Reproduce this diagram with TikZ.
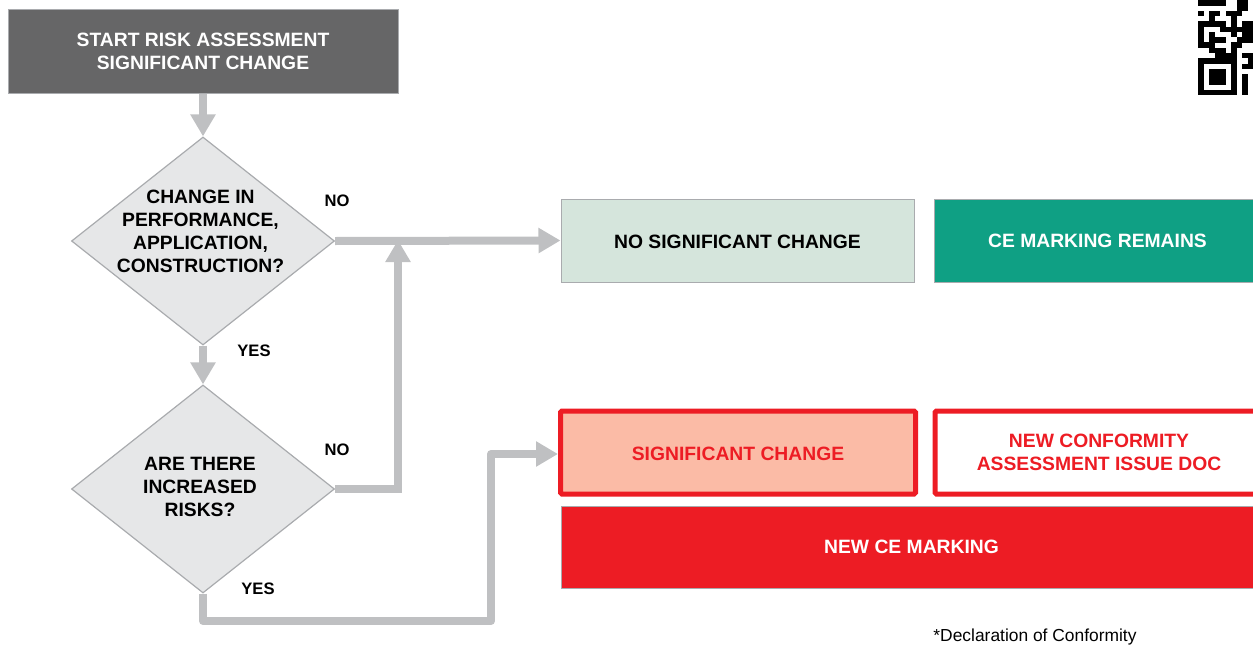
\documentclass[tikz,border=0pt]{standalone}
\usepackage{fontspec}
\setmainfont{Liberation Sans}
\usetikzlibrary{arrows.meta,shapes.geometric}
\definecolor{arrowgray}{HTML}{BFC0C2}
\definecolor{edgegray}{HTML}{A9ABAE}
\definecolor{startfill}{HTML}{666667}
\definecolor{diamfill}{HTML}{E6E7E8}
\definecolor{nofill}{HTML}{D5E5DC}
\definecolor{cefill}{HTML}{0FA084}
\definecolor{cered}{HTML}{ED1C24}
\definecolor{sigfill}{HTML}{FBBBA6}
\tikzset{
  x=1pt,y=-1pt,
  boxn/.style={draw=edgegray,line width=1pt,inner sep=0pt,align=center,font=\bfseries\fontsize{19.3}{23}\selectfont},
  lowtext/.style={text height=16.8pt,text depth=0pt},
  redbox/.style={boxn,draw=cered,line width=5pt,rounded corners=1.5pt,text=cered},
  diam/.style={diamond,draw=edgegray,line width=1.2pt,fill=diamfill,inner sep=0pt,minimum width=263pt,minimum height=208pt,aspect=1.264},
  dtext/.style={inner sep=0pt,align=center,font=\bfseries\fontsize{19.3}{23}\selectfont},
  lab/.style={inner sep=0pt,font=\bfseries\fontsize{16.6}{18}\selectfont},
  conn/.style={draw=arrowgray,line width=8pt},
  arr/.style={conn,-{Triangle[length=22pt,width=24pt]}},
}
\begin{document}
\begin{tikzpicture}
\useasboundingbox (0,0) rectangle (1253,645);
\clip (0,0) rectangle (1253,645);
\node[boxn,fill=startfill,text=white,minimum width=390pt,minimum height=84pt] (start) at (203,51) {START RISK ASSESSMENT\\SIGNIFICANT CHANGE};
\node[diam] (d1) at (203,241) {};
\node[dtext] (t1) at (200.5,231.5) {CHANGE IN\\PERFORMANCE,\\APPLICATION,\\CONSTRUCTION?};
\node[diam] (d2) at (203,489) {};
\node[dtext] (t2) at (200,487) {ARE THERE\\INCREASED\\RISKS?};
\node[boxn,lowtext,fill=nofill,text=black,minimum width=353pt,minimum height=83pt] (nosig) at (737.5,240.5) {NO SIGNIFICANT CHANGE};
\node[boxn,fill=cefill,text=white,minimum width=325pt,minimum height=83pt,anchor=west] (ce) at (933.5,240.5) {\hspace*{2pt}CE MARKING REMAINS};
\node[redbox,lowtext,fill=sigfill,minimum width=355pt,minimum height=83pt] (sig) at (738,452.5) {SIGNIFICANT CHANGE};
\node[redbox,fill=white,minimum width=330pt,minimum height=83pt,anchor=west] (conf) at (932.5,452.5) {\hspace*{-2pt}NEW CONFORMITY\\\hspace*{-2pt}ASSESSMENT ISSUE DOC};
\node[boxn,fill=cered,text=white,minimum width=692pt,minimum height=82pt,anchor=west] (newce) at (561,547) {\hspace*{8pt}NEW CE MARKING};
\node[lab] (no1) at (337,201) {NO};
\node[lab] (yes1) at (254,351) {YES};
\node[lab] (no2) at (337,450) {NO};
\node[lab] (yes2) at (258,589) {YES};
\node[inner sep=0pt,font=\fontsize{17.4}{19}\selectfont] (foot) at (1035,636.5) {*Declaration of Conformity};
\coordinate (j1) at (398,240);
\draw[arr] (start.south) -- (d1.north);
\draw[arr] (d1.south) -- (d2.north);
\draw[arr] (d1.east) -- (nosig.west);
\draw[arr] (d2.east) -| (j1);
\coordinate (c1) at (203,621);
\coordinate (c2) at (491,621);
\draw[arr,line join=round] (d2.south) -- (c1) -- (c2) |- ([yshift=-1.5pt]sig.west);
\foreach \r/\cols in {0/{0,1,2,3,4,7,8},1/{7,8},2/{0,2,3,5,6,7},3/{2,6},4/{0,1,2,3,4,6,8,9},5/{0,4,5,6,7,8,9},6/{0,2,6,8,9},7/{0,2,3,4,7,8,9},8/{0,1,2,6,7},9/{2,3,4,6},10/{3,4,5,6,8,9},11/{0,1,2,3,4,5,6,9},12/{0,6,8,9},13/{0,2,3,4,6},14/{0,2,3,4,6,8},15/{0,2,3,4,6,8},16/{0,6,8},17/{0,1,2,3,4,5,6,8}}{
  \foreach \c in \cols {
    \fill[black] ({1198+5.5*\c},{0.3+5.27*\r}) rectangle ({1198+5.5*\c+5.6},{0.3+5.27*\r+5.37});
  }
}
\end{tikzpicture}
\end{document}
